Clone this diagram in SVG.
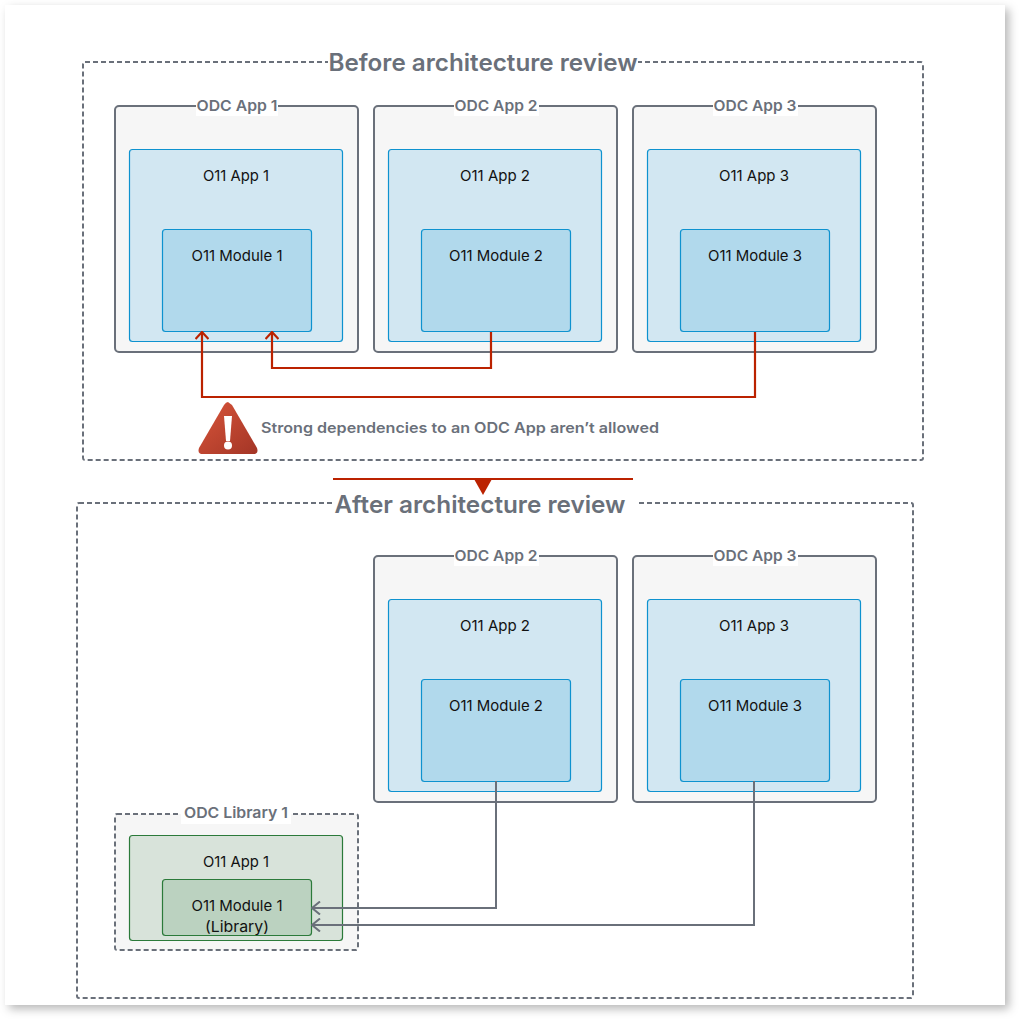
<svg xmlns="http://www.w3.org/2000/svg" width="1020" height="1020" viewBox="0 0 1020 1020">
<style>
text{font-family:"Inter","Liberation Sans",sans-serif;text-anchor:middle}
.title{font-size:24px;font-weight:600;fill:#6a707a}
.odc{font-size:15px;font-weight:600;fill:#6a707a}
.lbl{font-size:15px;fill:#111}
.note{font-size:14.5px;font-weight:600;fill:#6a707a;text-anchor:start}
.zone{fill:none;stroke:#6a707a;stroke-width:2;stroke-dasharray:5 3}
.app{fill:#f6f6f6;stroke:#6a707a;stroke-width:2}
.o11{fill:#d2e7f2;stroke:#0e92cf;stroke-width:1.200}
.mod{fill:#b1d9ec;stroke:#0e92cf;stroke-width:1.200}
.lo11{fill:#d8e3da;stroke:#2b7a3a;stroke-width:1.200}
.lmod{fill:#bbd2c0;stroke:#2b7a3a;stroke-width:1.200}
.red{fill:none;stroke:#bb2200;stroke-width:2.200}
.grey{fill:none;stroke:#6a707a;stroke-width:2}
.mask{fill:#fff}
</style>
<defs>
<filter id="sh" x="-5%" y="-5%" width="110%" height="110%"><feDropShadow dx="4" dy="4" stdDeviation="5" flood-color="#000" flood-opacity="0.28"/></filter>
<marker id="ar" viewBox="0 0 14 14" refX="13" refY="7" markerWidth="14" markerHeight="14" markerUnits="userSpaceOnUse" orient="auto"><path d="M6 0.500 L13 7 L6 13.500" fill="none" stroke="#bb2200" stroke-width="2.200"/></marker>
<marker id="ag" viewBox="0 0 14 14" refX="13" refY="7" markerWidth="14" markerHeight="14" markerUnits="userSpaceOnUse" orient="auto"><path d="M5 0.500 L13 7 L5 13.500" fill="none" stroke="#6a707a" stroke-width="2"/></marker>
<linearGradient id="warn" x1="0" y1="0" x2="1" y2="1"><stop offset="0" stop-color="#d9553a"/><stop offset="1" stop-color="#a33526"/></linearGradient>
</defs>
<rect x="5" y="5" width="1000" height="1000" fill="#fff" filter="url(#sh)"/>

<g id="zone-before">
<rect class="zone" x="83" y="62" width="840" height="398" rx="2"/>
<rect class="mask" x="328" y="48" width="310" height="28"/>
<text class="title" x="483" y="71" textLength="309" lengthAdjust="spacingAndGlyphs">Before architecture review</text>
</g>
<g id="zone-after">
<rect class="zone" x="77" y="503" width="836" height="495" rx="2"/>
<rect class="mask" x="332" y="490" width="304" height="28"/>
<text class="title" x="480" y="513" textLength="291" lengthAdjust="spacingAndGlyphs">After architecture review</text>
</g>

<g id="b-app1">
<rect class="app" x="115" y="106" width="243" height="246" rx="4"/>
<rect class="mask" x="196" y="98" width="82" height="18"/>
<text class="odc" x="237" y="111" textLength="81" lengthAdjust="spacingAndGlyphs">ODC App 1</text>
<rect class="o11" x="129.500" y="149.500" width="213" height="192" rx="3"/>
<text class="lbl" x="236" y="181" textLength="66" lengthAdjust="spacingAndGlyphs">O11 App 1</text>
<rect class="mod" x="162.500" y="229.500" width="149" height="102" rx="3"/>
<text class="lbl" x="237" y="261" textLength="91" lengthAdjust="spacingAndGlyphs">O11 Module 1</text>
</g>
<g id="b-app2">
<rect class="app" x="374" y="106" width="243" height="246" rx="4"/>
<rect class="mask" x="454" y="98" width="85" height="18"/>
<text class="odc" x="496" y="111" textLength="83" lengthAdjust="spacingAndGlyphs">ODC App 2</text>
<rect class="o11" x="388.500" y="149.500" width="213" height="192" rx="3"/>
<text class="lbl" x="495" y="181" textLength="70" lengthAdjust="spacingAndGlyphs">O11 App 2</text>
<rect class="mod" x="421.500" y="229.500" width="149" height="102" rx="3"/>
<text class="lbl" x="496" y="261" textLength="94" lengthAdjust="spacingAndGlyphs">O11 Module 2</text>
</g>
<g id="b-app3">
<rect class="app" x="633" y="106" width="243" height="246" rx="4"/>
<rect class="mask" x="713" y="98" width="85" height="18"/>
<text class="odc" x="755" y="111" textLength="83" lengthAdjust="spacingAndGlyphs">ODC App 3</text>
<rect class="o11" x="647.500" y="149.500" width="213" height="192" rx="3"/>
<text class="lbl" x="754" y="181" textLength="70" lengthAdjust="spacingAndGlyphs">O11 App 3</text>
<rect class="mod" x="680.500" y="229.500" width="149" height="102" rx="3"/>
<text class="lbl" x="755" y="261" textLength="94" lengthAdjust="spacingAndGlyphs">O11 Module 3</text>
</g>

<g id="a-app2">
<rect class="app" x="374" y="556" width="243" height="246" rx="4"/>
<rect class="mask" x="454" y="548" width="85" height="18"/>
<text class="odc" x="496" y="561" textLength="83" lengthAdjust="spacingAndGlyphs">ODC App 2</text>
<rect class="o11" x="388.500" y="599.500" width="213" height="192" rx="3"/>
<text class="lbl" x="495" y="631" textLength="70" lengthAdjust="spacingAndGlyphs">O11 App 2</text>
<rect class="mod" x="421.500" y="679.500" width="149" height="102" rx="3"/>
<text class="lbl" x="496" y="711" textLength="94" lengthAdjust="spacingAndGlyphs">O11 Module 2</text>
</g>
<g id="a-app3">
<rect class="app" x="633" y="556" width="243" height="246" rx="4"/>
<rect class="mask" x="713" y="548" width="85" height="18"/>
<text class="odc" x="755" y="561" textLength="83" lengthAdjust="spacingAndGlyphs">ODC App 3</text>
<rect class="o11" x="647.500" y="599.500" width="213" height="192" rx="3"/>
<text class="lbl" x="754" y="631" textLength="70" lengthAdjust="spacingAndGlyphs">O11 App 3</text>
<rect class="mod" x="680.500" y="679.500" width="149" height="102" rx="3"/>
<text class="lbl" x="755" y="711" textLength="94" lengthAdjust="spacingAndGlyphs">O11 Module 3</text>
</g>
<g id="a-lib1">
<rect class="zone" x="115" y="814" width="243" height="136" rx="2" style="fill:#f6f6f6"/>
<rect class="mask" x="181" y="806" width="110" height="18"/>
<text class="odc" x="236" y="818" textLength="104" lengthAdjust="spacingAndGlyphs">ODC Library 1</text>
<rect class="lo11" x="129.500" y="835.500" width="213" height="105" rx="3"/>
<text class="lbl" x="236" y="867" textLength="66" lengthAdjust="spacingAndGlyphs">O11 App 1</text>
<rect class="lmod" x="162.500" y="879.500" width="149" height="56" rx="3"/>
<text class="lbl" x="237" y="911" textLength="91" lengthAdjust="spacingAndGlyphs">O11 Module 1</text>
<text class="lbl" x="237" y="932" textLength="64" lengthAdjust="spacingAndGlyphs">(Library)</text>
</g>

<g id="connectors">
<path class="red" marker-end="url(#ar)" d="M491 332V368H272V332"/>
<path class="red" marker-end="url(#ar)" d="M755 332V397H202V332"/>
<path class="grey" marker-end="url(#ag)" d="M496 781V908H312"/>
<path class="grey" marker-end="url(#ag)" d="M754 781V925H312"/>
<path d="M333 479H633" fill="none" stroke="#bb2200" stroke-width="2"/>
<path d="M474 479H492L483 495Z" fill="#bb2200"/>
</g>

<g id="warning">
<path d="M228 402Q228 402 232 405L257 448Q259 454 253 454H203Q197 454 199 448L224 405Q226 402 228 402Z" fill="url(#warn)"/>
<path d="M224 416H232L230 441H226Z" fill="#fff"/>
<circle cx="228" cy="445.500" r="4" fill="#fff"/>
<text class="note" x="261" y="433" textLength="398" lengthAdjust="spacingAndGlyphs">Strong dependencies to an ODC App aren’t allowed</text>
</g>
</svg>
